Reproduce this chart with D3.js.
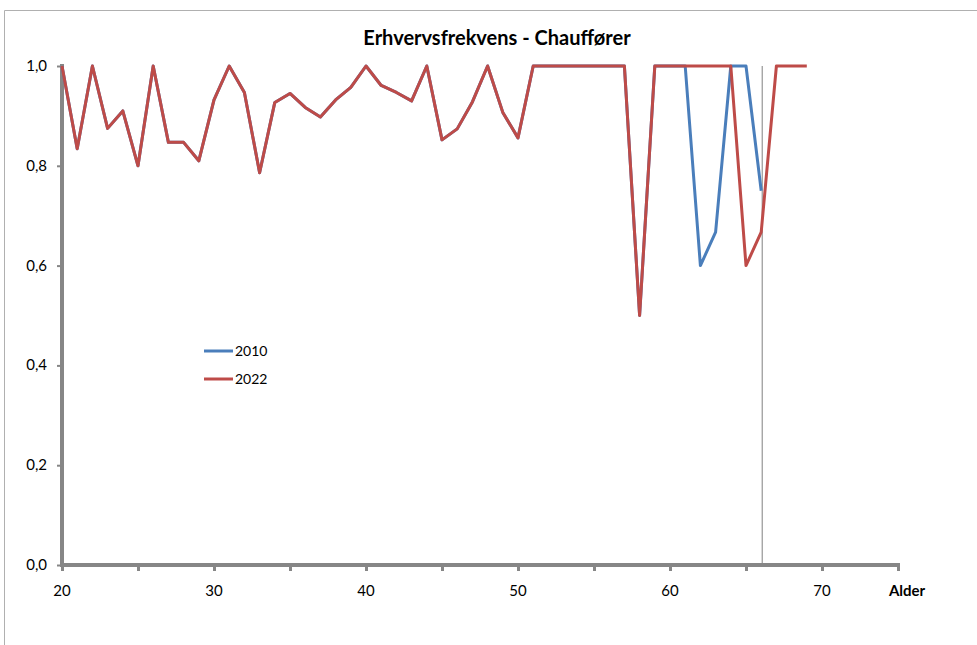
<!DOCTYPE html>
<html><head><meta charset="utf-8">
<script src="https://cdn.jsdelivr.net/npm/d3@7"></script>
<style>body{margin:0;background:#fff}svg{display:block}text{font-family:Lato,"Open Sans",sans-serif}</style>
</head><body><svg id="c" width="977" height="645"></svg>
<script>
const ages2010 = [20,21,22,23,24,25,26,27,28,29,30,31,32,33,34,35,36,37,38,39,40,41,42,43,44,45,46,47,48,49,50,51,52,53,54,55,56,57,58,59,60,61,62,63,64,65,66];
const values2010 = [1.0,0.834,1.0,0.875,0.91,0.80,1.0,0.847,0.847,0.81,0.932,1.0,0.947,0.786,0.927,0.945,0.917,0.898,0.932,0.957,1.0,0.961,0.947,0.93,1.0,0.852,0.874,0.928,1.0,0.907,0.856,1,1,1,1,1,1,1,0.5,1,1,1,0.6,0.667,1,1,0.75];
const ages2022 = [20,21,22,23,24,25,26,27,28,29,30,31,32,33,34,35,36,37,38,39,40,41,42,43,44,45,46,47,48,49,50,51,52,53,54,55,56,57,58,59,60,61,62,63,64,65,66,67,68,69];
const values2022 = [1.0,0.834,1.0,0.875,0.91,0.80,1.0,0.847,0.847,0.81,0.932,1.0,0.947,0.786,0.927,0.945,0.917,0.898,0.932,0.957,1.0,0.961,0.947,0.93,1.0,0.852,0.874,0.928,1.0,0.907,0.856,1,1,1,1,1,1,1,0.5,1,1,1,1,1,1,0.6,0.667,1,1,1];
const xTicks = [20,25,30,35,40,45,50,55,60,65,70,75];
const xLabels = [20,30,40,50,60,70];
const yTicks = [0,0.2,0.4,0.6,0.8,1.0];
const refAge = 66;
const seriesNames = ["2010","2022"];
const colors = ["#4a7ebb","#be4b48"];

const svg = d3.select("#c");
const x = d3.scaleLinear().domain([20,75]).range([62,898]);
const y = d3.scaleLinear().domain([0,1]).range([565,66]);

// frame
svg.append("path").attr("d","M4.5,645 L4.5,10.5 L977,10.5").attr("fill","none").attr("stroke","#b0b0b0").attr("stroke-width",1);

// title
svg.append("text").attr("x",497).attr("y",45).attr("text-anchor","middle")
  .attr("font-size",20).attr("font-weight","bold").attr("fill","#000").text("Erhvervsfrekvens - Chauffører");

// reference line
svg.append("line").attr("x1",x(refAge)+1).attr("x2",x(refAge)+1).attr("y1",y(1)).attr("y2",y(0))
  .attr("stroke","#808080").attr("stroke-width",1);

// axes
const gx = svg.append("g").attr("transform","translate(0,565)")
  .call(d3.axisBottom(x).tickValues(xTicks).tickSize(6).tickFormat(""));
gx.select(".domain").attr("stroke","#868686").attr("stroke-width",4).attr("d","M60,0H900");
gx.selectAll(".tick line").attr("stroke","#868686").attr("stroke-width",3);
svg.append("g").selectAll("text").data(xLabels).join("text")
  .attr("x",d=>x(d)).attr("y",596).attr("text-anchor","middle").attr("font-size",15).attr("fill","#000").text(d=>d);
svg.append("text").attr("x",907).attr("y",596).attr("text-anchor","middle").attr("font-size",15)
  .attr("font-weight","bold").text("Alder");

const gy = svg.append("g").attr("transform","translate(62,0)")
  .call(d3.axisLeft(y).tickValues(yTicks).tickSize(5).tickFormat(""));
gy.select(".domain").attr("stroke","#868686").attr("stroke-width",4).attr("d","M0,64V567");
gy.selectAll(".tick line").attr("stroke","#868686").attr("stroke-width",2);
svg.append("g").selectAll("text").data(yTicks).join("text")
  .attr("x",47).attr("y",d=>y(d)+5).attr("text-anchor","end").attr("font-size",15)
  .text(d=>d.toFixed(1).replace(".",","));

// lines
const line = d3.line().x(d=>x(d[0])).y(d=>y(d[1]));
const data = [d3.zip(ages2010,values2010), d3.zip(ages2022,values2022)];
svg.selectAll("path.series").data(data).join("path").attr("class","series")
  .attr("d",line).attr("fill","none").attr("stroke",(d,i)=>colors[i]).attr("stroke-width",3)
  .attr("stroke-linejoin","round");

// legend
const lg = svg.append("g");
seriesNames.forEach((n,i)=>{
  const yy = 351 + i*28;
  lg.append("line").attr("x1",204).attr("x2",233).attr("y1",yy).attr("y2",yy).attr("stroke",colors[i]).attr("stroke-width",3);
  lg.append("text").attr("x",235).attr("y",yy+5).attr("font-size",14).text(n);
});
</script></body></html>
